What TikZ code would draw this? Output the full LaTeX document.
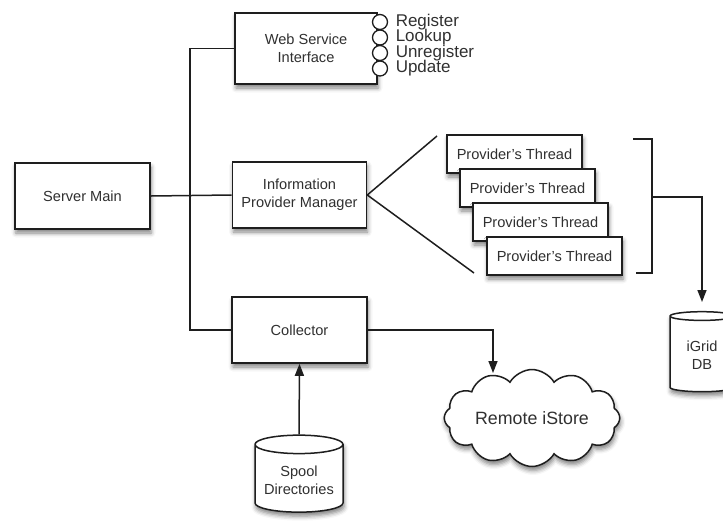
\documentclass[tikz,border=0pt]{standalone}
\usepackage{fontspec}
\setmainfont{Liberation Sans}
\usetikzlibrary{shapes.geometric,shapes.symbols,shadows.blur,arrows.meta,calc}
\definecolor{ink}{HTML}{1E1E1E}
\definecolor{txt}{HTML}{303030}
\begin{document}
\begin{tikzpicture}[x=1pt,y=-1pt,
  line width=1.5pt, draw=ink,
  shade/.style={blur shadow={shadow xshift=1pt, shadow yshift=-4pt, shadow blur radius=4.5pt, shadow opacity=50}},
  box/.style={draw=ink, fill=white, line width=1.6pt, minimum width=135pt, minimum height=66pt,
    align=center, text=txt, font=\fontsize{14.6}{18}\selectfont, inner sep=2pt, shade},
  thread/.style={box, minimum width=135pt, minimum height=38pt},
  port/.style={circle, draw=ink, fill=white, line width=1.3pt, minimum size=15pt, inner sep=0pt},
  portlabel/.style={anchor=west, text=txt, font=\fontsize{17}{16}\selectfont, inner sep=0pt},
  db/.style={cylinder, shape border rotate=90, draw=ink, fill=white, line width=1.5pt, aspect=0.25,
    align=center, text=txt, font=\fontsize{14.6}{18}\selectfont, inner sep=2pt, shade},
  link/.style={draw=ink, line width=1.5pt},
  arrow/.style={link, -{Triangle[width=9pt,length=12pt]}}
]
\useasboundingbox (0,0) rectangle (723,523);
\clip (0,0) rectangle (723,523);

% main boxes
\node[box, minimum width=142pt, minimum height=71pt] (wsi) at (306,48.5) {Web Service\\Interface};
\node[box] (sm) at (82.5,196) {Server Main};
\node[box, minimum width=134pt] (ipm) at (299.5,195) {Information\\Provider Manager};
\node[box] (coll) at (299.5,330) {Collector};

% ports
\node[port] (p1) at (380,22) {};
\node[port] (p2) at (380,37.5) {};
\node[port] (p3) at (380,53) {};
\node[port] (p4) at (380,68.5) {};
\node[portlabel] (l1) at (395,22) {Register};
\node[portlabel] (l2) at (395,37.5) {Lookup};
\node[portlabel] (l3) at (395,53) {Unregister};
\node[portlabel] (l4) at (395,68.5) {Update};

% threads
\node[thread] (t1) at (514.5,154) {Provider's Thread};
\node[thread] (t2) at (527.5,188) {Provider's Thread};
\node[thread] (t3) at (540.5,222) {Provider's Thread};
\node[thread] (t4) at (554.5,256) {Provider's Thread};

% stores
\node[db, minimum width=64pt, minimum height=80pt] (igrid) at (702,355) {iGrid\\DB};
\node[db, minimum width=88pt, minimum height=77pt] (spool) at (299,480) {Spool\\Directories};
\node[cloud, cloud puffs=12, cloud puff arc=120, aspect=2.3, draw=ink, fill=white, line width=1.5pt,
  minimum width=171pt, minimum height=75pt, text=txt, font=\fontsize{17.8}{20}\selectfont, shade] (store) at (532,418) {Remote iStore};

% coordinates
\coordinate (bus) at (190,195);
\coordinate (fanA) at (437,136);
\coordinate (fanB) at (474,273);
\coordinate (brT) at (633,139);
\coordinate (brTR) at (652,139);
\coordinate (brBR) at (652,273);
\coordinate (brB) at (636,273);
\coordinate (brM) at (652,197);
\coordinate (dbin) at (702,302);
\coordinate (cloudin) at (493,373);

% connectors
\draw[link] (wsi.west) -| (bus) |- (coll.west);
\draw[link] (sm.east) -- (ipm.west);
\draw[link] (ipm.east) -- (fanA);
\draw[link] (ipm.east) -- (fanB);
\draw[link] (brT) -- (brTR) -- (brBR) -- (brB);
\draw[arrow] (brM) -| (dbin);
\draw[arrow] (coll.east) -| (cloudin);
\draw[arrow] (spool.north) -- (coll.south);
\end{tikzpicture}
\end{document}
